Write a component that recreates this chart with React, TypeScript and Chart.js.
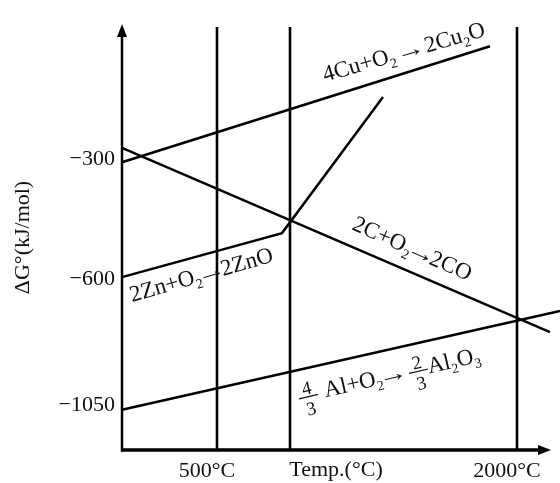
import React, { useEffect, useRef } from "react";
import { Chart, registerables, LinearScale } from "chart.js";

// ---- Data (temperature in °C, ΔG° in kJ/mol) ----
const xTickValues = [500, 2000];
const yTickValues = [-1050, -600, -300];

const cuTemps = [25, 1865];
const cuDG = [-308, -18];

const cTemps = [25, 2165];
const cDG = [-272, -789];

const znTemps = [25, 825, 1330];
const znDG = [-595, -485, -145];

const alTemps = [25, 2215];
const alDG = [-1066, -714];

const markerTemps = [500, 865, 2000];
const markerTopDG = 30;

const X_MIN = 25;
const X_MAX = 2165;
const Y_MIN = -1210;
const Y_MAX = 35;

// ---- A linear axis whose part below a break value is compressed (schematic axis) ----
class BrokenLinearScale extends LinearScale {
  static id = "brokenLinear";
  static defaults = {};
  toVirtual(v: number) {
    const o: any = this.options;
    const b = o.breakAt ?? -600;
    const k = o.compress ?? 0.7;
    return v >= b ? v : b + (v - b) * k;
  }
  fromVirtual(u: number) {
    const o: any = this.options;
    const b = o.breakAt ?? -600;
    const k = o.compress ?? 0.7;
    return u >= b ? u : b + (u - b) / k;
  }
  configure() {
    super.configure();
    const a = this.toVirtual(this.min);
    const b = this.toVirtual(this.max);
    (this as any)._startValue = a;
    (this as any)._endValue = b;
    (this as any)._valueRange = b - a;
  }
  getPixelForValue(v: any) {
    if (v === null || v === undefined) return NaN;
    return super.getPixelForValue(this.toVirtual(v));
  }
  getValueForPixel(p: number) {
    return this.fromVirtual(super.getValueForPixel(p) as number);
  }
}

Chart.register(...registerables, BrokenLinearScale);

const SERIF = '"Liberation Serif", "Times New Roman", serif';
const INK = "#111";

type Piece =
  | { k: "t"; s: string }
  | { k: "sub"; s: string }
  | { k: "arrow" }
  | { k: "gap"; w: number }
  | { k: "frac"; n: string; d: string };

const t = (s: string): Piece => ({ k: "t", s });
const sb = (s: string): Piece => ({ k: "sub", s });
const arrow: Piece = { k: "arrow" };
const gap = (w: number): Piece => ({ k: "gap", w });
const frac = (n: string, d: string): Piece => ({ k: "frac", n, d });

const reactionLabels = [
  { pieces: [t("4Cu+O"), sb("2"), gap(5), arrow, gap(5), t("2Cu"), sb("2"), t("O")], T: 1040, G: -107, angle: -16 },
  { pieces: [t("2Zn+O"), sb("2"), arrow, t("2ZnO")], T: 75, G: -682, angle: -16 },
  { pieces: [t("2C+O"), sb("2"), arrow, t("2CO")], T: 1170, G: -475, angle: 24 },
  {
    pieces: [frac("4", "3"), gap(7), t("Al+O"), sb("2"), arrow, gap(6), frac("2", "3"), t("Al"), sb("2"), t("O"), sb("3")],
    T: 915,
    G: -1043,
    angle: -13,
  },
];

function drawFormula(ctx: CanvasRenderingContext2D, pieces: Piece[], x: number, y: number, angle: number, size: number) {
  ctx.save();
  ctx.translate(x, y);
  ctx.rotate((angle * Math.PI) / 180);
  ctx.textAlign = "left";
  ctx.textBaseline = "alphabetic";
  ctx.fillStyle = INK;
  ctx.strokeStyle = INK;
  const main = `${size}px ${SERIF}`;
  const subF = `${Math.round(size * 0.62)}px ${SERIF}`;
  const fracF = `${Math.round(size * 0.84)}px ${SERIF}`;
  const arrowInk = 19;
  let cx = 0;
  for (const p of pieces) {
    if (p.k === "t") {
      ctx.font = main;
      ctx.fillText(p.s, cx, 0);
      cx += ctx.measureText(p.s).width;
    } else if (p.k === "sub") {
      ctx.font = subF;
      ctx.fillText(p.s, cx, size * 0.24);
      cx += ctx.measureText(p.s).width;
    } else if (p.k === "arrow") {
      ctx.font = main;
      const m = ctx.measureText("\u2192");
      const abl = m.actualBoundingBoxLeft || 0;
      const abr = m.actualBoundingBoxRight || m.width;
      const ink = Math.max(1, abl + abr);
      const s = arrowInk / ink;
      ctx.save();
      ctx.translate(cx + 1 + abl * s, 0);
      ctx.scale(s, 1);
      ctx.fillText("\u2192", 0, 0);
      ctx.restore();
      cx += arrowInk + 2;
    } else if (p.k === "gap") {
      cx += p.w;
    } else {
      ctx.font = fracF;
      const wn = ctx.measureText(p.n).width;
      const wd = ctx.measureText(p.d).width;
      const w = Math.max(wn, wd) + 10;
      ctx.fillText(p.n, cx + (w - wn) / 2, -7);
      ctx.fillText(p.d, cx + (w - wd) / 2, 14);
      ctx.lineWidth = 1.2;
      ctx.beginPath();
      ctx.moveTo(cx, -4.5);
      ctx.lineTo(cx + w, -4.5);
      ctx.stroke();
      cx += w;
    }
  }
  ctx.restore();
}

const overlayPlugin = {
  id: "overlay",
  afterDatasetsDraw(chart: any) {
    const { ctx, chartArea } = chart;
    const { left, right, top, bottom } = chartArea;
    const xs = chart.scales.x;
    const ys = chart.scales.y;
    ctx.save();
    ctx.strokeStyle = "#000";
    ctx.fillStyle = "#000";
    // y axis with arrow
    ctx.lineWidth = 2.5;
    ctx.beginPath();
    ctx.moveTo(left, bottom + 1.5);
    ctx.lineTo(left, top + 8);
    ctx.stroke();
    ctx.beginPath();
    ctx.moveTo(left, top - 1);
    ctx.lineTo(left - 5, top + 12);
    ctx.lineTo(left + 5, top + 12);
    ctx.closePath();
    ctx.fill();
    // x axis with arrow
    ctx.lineWidth = 3.5;
    ctx.beginPath();
    ctx.moveTo(left - 1, bottom);
    ctx.lineTo(right - 8, bottom);
    ctx.stroke();
    ctx.beginPath();
    ctx.moveTo(right + 1, bottom);
    ctx.lineTo(right - 12, bottom - 5);
    ctx.lineTo(right - 12, bottom + 5);
    ctx.closePath();
    ctx.fill();
    ctx.restore();

    for (const l of reactionLabels) {
      drawFormula(ctx, l.pieces, xs.getPixelForValue(l.T), ys.getPixelForValue(l.G), l.angle, 23);
    }
  },
};

export default function App() {
  const ref = useRef<HTMLCanvasElement | null>(null);
  useEffect(() => {
    if (!ref.current) return;
    const lineStyle = {
      borderColor: "#000",
      borderWidth: 2.5,
      pointRadius: 0,
      tension: 0,
      fill: false,
      clip: false as any,
    };
    const pts = (xs: number[], ys: number[]) => xs.map((x, i) => ({ x, y: ys[i] }));
    const datasets: any[] = [
      { label: "4Cu+O2→2Cu2O", data: pts(cuTemps, cuDG), ...lineStyle },
      { label: "2C+O2→2CO", data: pts(cTemps, cDG), ...lineStyle },
      { label: "2Zn+O2→2ZnO", data: pts(znTemps, znDG), ...lineStyle },
      { label: "4/3Al+O2→2/3Al2O3", data: pts(alTemps, alDG), ...lineStyle },
      ...markerTemps.map((T) => ({
        label: `${T}°C`,
        data: [
          { x: T, y: Y_MIN },
          { x: T, y: markerTopDG },
        ],
        ...lineStyle,
        borderWidth: 2.6,
      })),
    ];
    const chart = new Chart(ref.current, {
      type: "line",
      data: { datasets },
      plugins: [overlayPlugin],
      options: {
        responsive: false,
        devicePixelRatio: 1,
        animation: false,
        events: [],
        layout: { padding: { top: 25, right: 10, left: 0, bottom: 0 } },
        plugins: { legend: { display: false }, tooltip: { enabled: false } },
        scales: {
          x: {
            type: "linear",
            min: X_MIN,
            max: X_MAX,
            bounds: "data",
            grid: { display: false, drawTicks: false },
            border: { display: false },
            afterBuildTicks: (s: any) => {
              s.ticks = xTickValues.map((v) => ({ value: v }));
            },
            afterFit: (s: any) => {
              s.height = 33;
            },
            ticks: {
              autoSkip: false,
              maxRotation: 0,
              padding: 8,
              labelOffset: -10,
              color: INK,
              font: { family: SERIF, size: 22 },
              callback: (v: any) => `${v}°C`,
            },
            title: {
              display: true,
              text: "Temp.(°C)",
              color: INK,
              font: { family: SERIF, size: 22 },
              padding: { top: 0, bottom: 0 },
            },
          },
          y: {
            type: "brokenLinear" as any,
            min: Y_MIN,
            max: Y_MAX,
            bounds: "data",
            breakAt: -600,
            compress: 0.7,
            grid: { display: false, drawTicks: false },
            border: { display: false },
            afterBuildTicks: (s: any) => {
              s.ticks = yTickValues.map((v) => ({ value: v }));
            },
            afterFit: (s: any) => {
              s.width = 122;
            },
            ticks: {
              autoSkip: false,
              padding: 7,
              color: INK,
              font: { family: SERIF, size: 22 },
              callback: (v: any) => "\u2212" + Math.abs(v),
            },
            title: {
              display: true,
              text: "\u0394G°(kJ/mol)",
              color: INK,
              font: { family: SERIF, size: 22 },
              padding: { top: 10, bottom: 0 },
            },
          } as any,
        },
      },
    });
    return () => chart.destroy();
  }, []);
  return (
    <div style={{ position: "absolute", left: 0, top: 0, width: 560, height: 483, background: "#fff" }}>
      <canvas ref={ref} width={560} height={483} style={{ display: "block" }} />
    </div>
  );
}
